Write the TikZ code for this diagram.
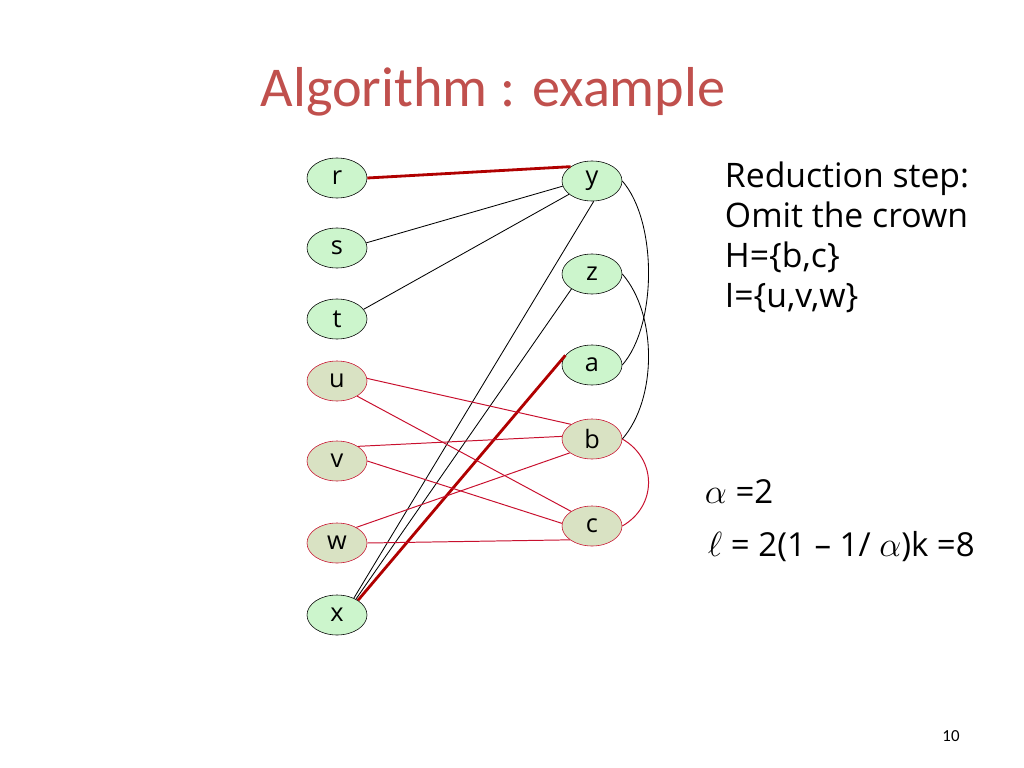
\documentclass[tikz,border=0pt]{standalone}
\usepackage{fontspec}
\setmainfont{Open Sans}
\newfontfamily\titlefont{Carlito}
\usetikzlibrary{shapes.geometric}
\definecolor{titlered}{HTML}{C0504D}
\definecolor{edgered}{HTML}{C8102E}
\definecolor{crownred}{HTML}{B00000}
\definecolor{leafgreen}{HTML}{CCF5CC}
\definecolor{crowntan}{HTML}{D9E2C3}

\begin{document}
\begin{tikzpicture}[x=0.025cm,y=-0.025cm,
    vertex/.style={ellipse,draw,fill=leafgreen,minimum width=1.5cm,minimum height=1cm,
      inner sep=0pt,font=\fontsize{18}{18}\selectfont},
    crown/.style={vertex,draw=edgered,fill=crowntan},
    plain/.style={line width=0.6pt},
    redline/.style={edgered,line width=0.7pt},
    matched/.style={crownred,line width=2pt}]
  \useasboundingbox (0,0) rectangle (1024,768);
  \node [anchor=base,titlered,font=\titlefont\fontsize{40}{40}\selectfont] (title) at (493,107) {Algorithm : example};
  \node [vertex] (r) at (337,178) {r};
  \node [vertex] (s) at (337,248) {s};
  \node [vertex] (t) at (337,319) {t};
  \node [crown] (u) at (337,381) {u};
  \node [crown] (v) at (337,461) {v};
  \node [crown] (w) at (337,543) {w};
  \node [vertex] (x) at (337,615) {x};
  \node [vertex] (y) at (592,181) {y};
  \node [vertex] (z) at (592,274) {z};
  \node [vertex] (a) at (592,365) {a};
  \node [crown] (b) at (592,439) {b};
  \node [crown] (c) at (592,526) {c};
  \draw [matched] (r.east) -- (y.north west);
  \draw [plain] (s.10) -- (y.190);
  \draw [plain] (t.20) -- (y.210);
  \draw [plain] (y.275) -- (x.45);
  \draw [plain] (z.216) -- (x.40);
  \draw [matched] (a.160) -- (x.35);
  \draw [plain] (y.east) .. controls +(35,40) and +(35,-40) .. (a.east);
  \draw [plain] (z.east) .. controls +(35,40) and +(35,-40) .. (b.east);
  \draw [redline] (b.east) .. controls +(35,20) and +(35,-20) .. (c.east);
  \draw [redline] (u.5) -- (b.145);
  \draw [redline] (u.323) -- (c.145);
  \draw [redline] (v.35) -- (b.175);
  \draw [redline] (v.east) -- (c.175);
  \draw [redline] (w.39) -- (b.212);
  \draw [redline] (w.east) -- (c.212);
  \node [anchor=north west,align=left,font=\fontsize{24}{28.4}\selectfont] (crowntext) at (720,157)
    {Reduction step:\\Omit the crown\\H=\{b,c\}\\I=\{u,v,w\}};
  \node [anchor=base west,font=\fontsize{23.5}{23.5}\selectfont] (alpha) at (700,503) {$\alpha$ =2};
  \node [anchor=base west,font=\fontsize{23.5}{23.5}\selectfont] (ell) at (703,556) {$\ell$ = 2(1 – 1/ $\alpha$)k =8};
  \node [anchor=base,font=\titlefont\fontsize{12}{12}\selectfont] (page) at (951,741) {10};
\end{tikzpicture}
\end{document}
